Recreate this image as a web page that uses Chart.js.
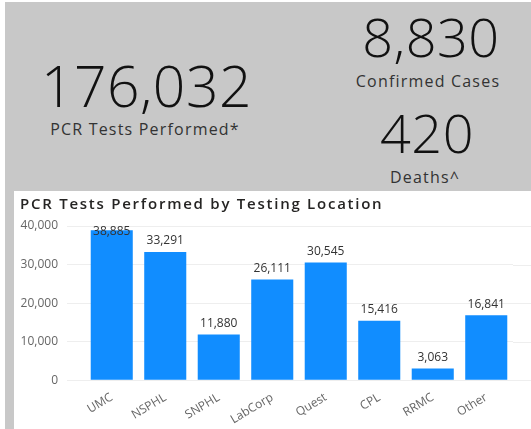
<!DOCTYPE html>
<html>
<head>
<meta charset="utf-8">
<script src="https://cdn.jsdelivr.net/npm/chart.js@4"></script>
<style>
  body { margin: 0; width: 531px; height: 429px; background: #fff; overflow: hidden; font-family: 'Open Sans', sans-serif; }
  #page { position: absolute; left: 5px; top: 2px; width: 526px; height: 427px; background: #c8c8c8; }
  .kpi { position: absolute; text-align: center; color: #252423; white-space: nowrap; line-height: 1; }
  .big { font-size: 57px; color: #111; font-weight: 300; letter-spacing: 0.5px; }
  .mid { font-size: 54px; color: #111; font-weight: 300; letter-spacing: 0.5px; }
  .lbl { font-size: 16px; color: #333; letter-spacing: 1.2px; }
  #panel { position: absolute; left: 14px; top: 191px; width: 517px; height: 238px; background: #fff; }
  #title { position: absolute; left: 6px; top: 3px; font-size: 15px; font-weight: 600; color: #252423; letter-spacing: 1.75px; white-space: nowrap; line-height: 18px; }
  canvas { position: absolute; left: 0; top: 0; }
</style>
</head>
<body>
<div id="page"></div>
<div class="kpi big" id="kTests" style="left:41px; width:200px; top:57px;"></div>
<div class="kpi lbl" style="left:45px; width:200px; top:121px;">PCR Tests Performed*</div>
<div class="kpi mid" id="kCases" style="left:331px; width:200px; top:9px;"></div>
<div class="kpi lbl" style="left:328px; width:200px; top:73px;">Confirmed Cases</div>
<div class="kpi mid" id="kDeaths" style="left:327px; width:200px; top:105px;"></div>
<div class="kpi lbl" style="left:325px; width:200px; top:169px;">Deaths^</div>
<div id="panel">
  <canvas id="my-chart" width="517" height="238"></canvas>
  <div id="title">PCR Tests Performed by Testing Location</div>
</div>
<script>
// headline numbers
const totalTests = 176032;
const confirmedCases = 8830;
const deaths = 420;

// bar chart data
const locations = ['UMC', 'NSPHL', 'SNPHL', 'LabCorp', 'Quest', 'CPL', 'RRMC', 'Other'];
const testsPerformed = [38885, 33291, 11880, 26111, 30545, 15416, 3063, 16841];
const yTicks = [0, 10000, 20000, 30000, 40000];

const fmt = n => n.toLocaleString('en-US');
document.getElementById('kTests').textContent = fmt(totalTests);
document.getElementById('kCases').textContent = fmt(confirmedCases);
document.getElementById('kDeaths').textContent = fmt(deaths);

// value labels above each bar
const valueLabels = {
  id: 'valueLabels',
  afterDatasetsDraw(chart) {
    const c = chart.ctx;
    const meta = chart.getDatasetMeta(0);
    c.save();
    c.font = '12px "Open Sans", sans-serif';
    c.fillStyle = '#333';
    c.textAlign = 'center';
    c.textBaseline = 'middle';
    meta.data.forEach((bar, i) => {
      const y = Math.max(bar.y - 11, chart.chartArea.top + 6);
      c.fillText(fmt(testsPerformed[i]), bar.x, y);
    });
    c.restore();
  }
};

// carry the horizontal gridlines on to the right edge, like the original visual
const gridToEdge = {
  id: 'gridToEdge',
  beforeDatasetsDraw(chart) {
    const c = chart.ctx;
    const y = chart.scales.y;
    c.save();
    c.strokeStyle = '#eeeeee';
    c.lineWidth = 1;
    y.ticks.forEach(t => {
      const py = Math.round(y.getPixelForValue(t.value)) + 0.5;
      c.beginPath();
      c.moveTo(chart.chartArea.right, py);
      c.lineTo(chart.width, py);
      c.stroke();
    });
    c.restore();
  }
};

const ctx = document.getElementById('my-chart').getContext('2d');
const chart = new Chart(ctx, {
  type: 'bar',
  data: {
    labels: locations,
    datasets: [
      {
        label: 'PCR Tests',
        data: testsPerformed,
        backgroundColor: '#118DFF',
        categoryPercentage: 1,
        barPercentage: 0.786
      }
    ]
  },
  options: {
    responsive: false,
    animation: false,
    layout: { padding: { left: 6, right: 18, top: 35, bottom: 0 } },
    plugins: {
      legend: { display: false },
      tooltip: { enabled: false },
      title: { display: false }
    },
    scales: {
      x: {
        grid: { display: false },
        border: { display: false },
        ticks: {
          color: '#666',
          font: { family: 'Open Sans', size: 12 },
          minRotation: 31,
          maxRotation: 31,
          padding: 2
        }
      },
      y: {
        min: 0,
        max: 40000,
        border: { display: false },
        grid: { color: '#eeeeee', tickLength: 18, tickColor: '#eeeeee' },
        afterBuildTicks: axis => { axis.ticks = yTicks.map(v => ({ value: v })); },
        afterFit: axis => { axis.width = 65; },
        ticks: {
          color: '#666',
          font: { family: 'Open Sans', size: 12 },
          padding: 9,
          callback: v => fmt(v)
        }
      }
    }
  },
  plugins: [gridToEdge, valueLabels]
});
</script>
</body>
</html>
